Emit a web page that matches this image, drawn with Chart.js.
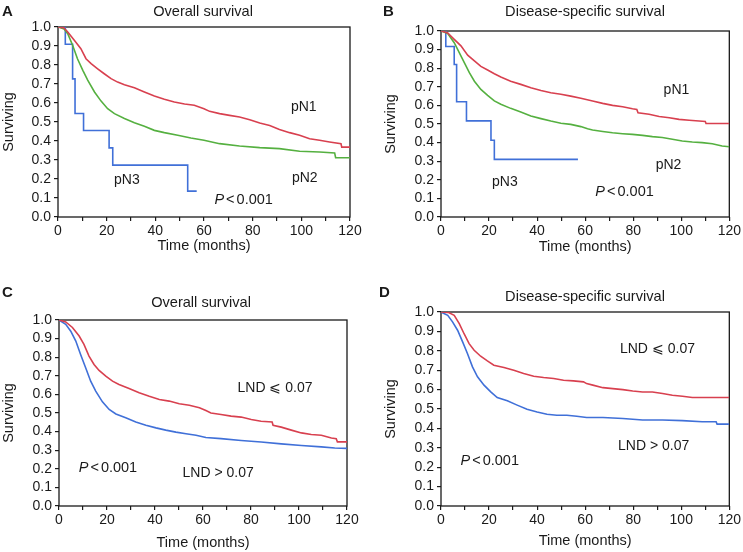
<!DOCTYPE html>
<html>
<head>
<meta charset="utf-8">
<script src="https://cdn.jsdelivr.net/npm/chart.js@4.4.0/dist/chart.umd.min.js"></script>
<style>
  html, body { margin: 0; padding: 0; background: #fff; }
  #wrap { position: relative; width: 743px; height: 552px; }
  canvas { position: absolute; }
</style>
</head>
<body>
<div id="wrap">
  <canvas id="panelA" width="372" height="276" style="left:0;top:0"></canvas>
  <canvas id="panelB" width="371" height="276" style="left:372px;top:0"></canvas>
  <canvas id="panelC" width="372" height="276" style="left:0;top:276px"></canvas>
  <canvas id="panelD" width="371" height="276" style="left:372px;top:276px"></canvas>
</div>
<script>
// A: overall survival by pN stage
const aN1Months = [0, 2.5, 4, 6.7, 9.4, 11.5, 13.6, 16.3, 19, 21.8, 24.5, 27.3, 31.4, 35.5, 39.6, 43.7, 47.8, 52, 56, 60, 62.3, 66.4, 70.5, 74.6, 78.8, 82.9, 87, 91, 95.2, 99.3, 103.4, 107.5, 111.6, 116.3, 116.6, 120];
const aN1Surv = [1, 0.995, 0.974, 0.93, 0.886, 0.833, 0.807, 0.78, 0.754, 0.728, 0.71, 0.696, 0.68, 0.658, 0.637, 0.62, 0.605, 0.595, 0.588, 0.57, 0.556, 0.544, 0.535, 0.526, 0.512, 0.495, 0.482, 0.461, 0.444, 0.43, 0.412, 0.404, 0.395, 0.386, 0.368, 0.368];
const aN2Months = [0, 2.5, 4, 6, 8, 10.2, 12.2, 15, 17.7, 20.4, 23.2, 27.3, 31.4, 35.5, 39.6, 43.7, 49.2, 54.6, 60, 66.4, 74.6, 82.9, 91, 99.3, 107.5, 113.7, 114.1, 120];
const aN2Surv = [1, 0.99, 0.965, 0.904, 0.833, 0.772, 0.72, 0.658, 0.61, 0.57, 0.544, 0.518, 0.496, 0.477, 0.456, 0.444, 0.43, 0.416, 0.404, 0.386, 0.374, 0.365, 0.36, 0.346, 0.342, 0.337, 0.312, 0.312];
const aN3Months = [0, 3, 6, 7, 10.5, 21, 22.5, 53.3, 57];
const aN3Surv = [1, 0.909, 0.727, 0.545, 0.455, 0.364, 0.273, 0.136, 0.136];

// B: disease-specific survival by pN stage
const bN1Months = [0, 2.8, 5.5, 8.3, 11.1, 13.9, 16.6, 19.4, 22.2, 24.9, 29, 33.2, 37.4, 41.6, 45.7, 49.9, 54, 58.2, 63.1, 67.3, 71.4, 75.6, 79.7, 81.5, 82, 86.6, 90.8, 95, 99.1, 103.3, 107.4, 110, 110.3, 120];
const bN1Surv = [1, 0.99, 0.955, 0.92, 0.87, 0.84, 0.81, 0.79, 0.77, 0.753, 0.73, 0.713, 0.695, 0.68, 0.668, 0.66, 0.65, 0.638, 0.624, 0.611, 0.6, 0.593, 0.582, 0.578, 0.56, 0.552, 0.54, 0.534, 0.525, 0.52, 0.516, 0.514, 0.503, 0.503];
const bN2Months = [0, 2.8, 5.5, 7.6, 9.7, 11.8, 13.9, 16.6, 19.4, 22.2, 24.9, 29, 33.2, 37.4, 41.6, 45.7, 49.9, 54, 58.2, 61, 63.1, 67.3, 71.4, 75.6, 79.7, 83.9, 88, 92.1, 96.3, 100.4, 104.6, 108.7, 112.9, 117, 120];
const bN2Surv = [1, 0.987, 0.937, 0.884, 0.83, 0.776, 0.73, 0.686, 0.654, 0.624, 0.606, 0.584, 0.565, 0.543, 0.529, 0.516, 0.504, 0.498, 0.486, 0.474, 0.468, 0.46, 0.453, 0.448, 0.444, 0.439, 0.432, 0.427, 0.418, 0.409, 0.403, 0.4, 0.394, 0.382, 0.378];
const bN3Months = [0, 2, 5.5, 6.5, 10.6, 20.8, 22.2, 57];
const bN3Surv = [1, 0.917, 0.82, 0.62, 0.517, 0.413, 0.31, 0.31];

// C: overall survival by LND
const cLowMonths = [0, 2.8, 5.6, 8.4, 10.4, 12.5, 14.6, 16.7, 19.5, 22.3, 25, 29.2, 33.4, 37.6, 41.8, 45.9, 50.1, 54.3, 58.5, 61.2, 63.3, 67.5, 71.7, 75.9, 80.1, 84.2, 88.8, 89.2, 92.6, 96.8, 101, 105.1, 109.3, 113.5, 115.5, 116, 120];
const cLowSurv = [1, 0.99, 0.96, 0.914, 0.869, 0.806, 0.761, 0.729, 0.698, 0.671, 0.653, 0.632, 0.609, 0.59, 0.573, 0.564, 0.55, 0.542, 0.528, 0.513, 0.5, 0.492, 0.483, 0.478, 0.465, 0.456, 0.452, 0.434, 0.424, 0.408, 0.393, 0.384, 0.38, 0.366, 0.362, 0.345, 0.345];
const cHighMonths = [0, 2.8, 4.9, 7, 9, 11.1, 13.2, 15.3, 18.1, 20.9, 23.7, 27.8, 32, 36.2, 40.4, 44.5, 48.7, 52.9, 57.1, 61.2, 67.5, 75.9, 84.2, 92.6, 101, 109.3, 114.9, 120];
const cHighSurv = [1, 0.977, 0.94, 0.887, 0.815, 0.743, 0.671, 0.618, 0.56, 0.519, 0.495, 0.474, 0.452, 0.434, 0.42, 0.408, 0.397, 0.388, 0.38, 0.368, 0.362, 0.352, 0.344, 0.334, 0.325, 0.318, 0.312, 0.31];

// D: disease-specific survival by LND
const dLowMonths = [0, 3, 5.5, 7.6, 9.6, 11.7, 13.8, 16.5, 19.3, 22, 26.2, 30.3, 34.4, 38.6, 42.7, 46.9, 51, 55.1, 59.3, 60.6, 63.2, 67.4, 71.5, 75.7, 79.8, 83.9, 88, 92.2, 96.3, 100.5, 104.6, 120];
const dLowSurv = [1, 0.998, 0.983, 0.94, 0.888, 0.837, 0.803, 0.772, 0.748, 0.726, 0.714, 0.7, 0.683, 0.669, 0.662, 0.657, 0.648, 0.645, 0.64, 0.631, 0.623, 0.61, 0.605, 0.6, 0.593, 0.588, 0.588, 0.58, 0.571, 0.566, 0.559, 0.559];
const dHighMonths = [0, 2.8, 4.8, 6.9, 9, 11, 13.1, 15.2, 17.9, 20.7, 23.4, 27.6, 31.7, 35.8, 40, 44.1, 48.2, 52.4, 56.5, 60.6, 67.4, 75.7, 83.9, 92.2, 100.5, 108.7, 114.5, 114.9, 120];
const dHighSurv = [1, 0.983, 0.949, 0.906, 0.846, 0.786, 0.717, 0.666, 0.623, 0.588, 0.559, 0.542, 0.52, 0.499, 0.485, 0.473, 0.468, 0.468, 0.463, 0.456, 0.456, 0.451, 0.443, 0.443, 0.44, 0.434, 0.434, 0.422, 0.422];

const xTicks = [0, 20, 40, 60, 80, 100, 120];

const FONT = "'Liberation Sans', Arial, Helvetica, sans-serif";
const INK = "#1a1a1a";
const RED = "#d8404f";
const GREEN = "#55b040";
const BLUE = "#4070d8";

function toPoints(months, surv) {
  return months.map((m, i) => ({ x: m, y: surv[i] }));
}

function curve(months, surv, color, stepped) {
  return {
    data: toPoints(months, surv),
    borderColor: color,
    borderWidth: 1.6,
    pointRadius: 0,
    fill: false,
    tension: 0,
    stepped: stepped ? "before" : false
  };
}

// frame, panel letter, title, axis titles and in-plot labels
const panelText = {
  id: "panelText",
  beforeDatasetsDraw(chart) {
    const { left, top, right, bottom } = chart.chartArea;
    const ctx = chart.ctx;
    ctx.save();
    ctx.strokeStyle = INK;
    ctx.lineWidth = 1.3;
    ctx.strokeRect(left, top, right - left, bottom - top);
    ctx.restore();
  },
  afterDraw(chart, args, o) {
    const ctx = chart.ctx;
    const { left, top, right, bottom } = chart.chartArea;
    const sx = chart.scales.x, sy = chart.scales.y;
    ctx.save();
    ctx.fillStyle = INK;
    ctx.textBaseline = "middle";

    ctx.font = "bold 15px " + FONT;
    ctx.textAlign = "left";
    ctx.fillText(o.letter, o.letterPos[0], o.letterPos[1]);

    ctx.font = "14.6px " + FONT;
    ctx.textAlign = "center";
    ctx.fillText(o.title, o.titlePos[0], o.titlePos[1]);
    ctx.font = "14.5px " + FONT;
    ctx.fillText("Time (months)", (left + right) / 2, o.xTitleY);

    ctx.save();
    ctx.translate(o.yTitleX, (top + bottom) / 2);
    ctx.rotate(-Math.PI / 2);
    ctx.fillText("Surviving", 0, 0);
    ctx.restore();

    o.labels.forEach(l => {
      const px = sx.getPixelForValue(l.at[0]);
      const py = sy.getPixelForValue(l.at[1]);
      if (l.p) {
        // italic P, then "<" and the value with small gaps
        const gap = 2;
        ctx.font = "italic 14.5px " + FONT;
        const w1 = ctx.measureText("P").width;
        ctx.font = "14.5px " + FONT;
        const w2 = ctx.measureText("<").width;
        const w3 = ctx.measureText(l.text).width;
        let x = px - (w1 + w2 + w3 + 2 * gap) / 2;
        ctx.textAlign = "left";
        ctx.font = "italic 14.5px " + FONT;
        ctx.fillText("P", x, py);
        x += w1 + gap;
        ctx.font = "14.5px " + FONT;
        ctx.fillText("<", x, py);
        x += w2 + gap;
        ctx.fillText(l.text, x, py);
      } else {
        ctx.font = "14px " + FONT;
        ctx.textAlign = "center";
        ctx.fillText(l.text, px, py);
      }
    });
    ctx.restore();
  }
};

function createPanel(canvasId, datasets, box, text) {
  const canvas = document.getElementById(canvasId);
  new Chart(canvas, {
    type: "line",
    data: { datasets },
    plugins: [panelText],
    options: {
      responsive: false,
      animation: false,
      layout: { padding: { left: 0, top: box.top, right: box.right, bottom: 0 } },
      scales: {
        x: {
          type: "linear",
          min: 0,
          max: 120,
          afterFit(s) { s.height = box.xh; },
          border: { display: false },
          grid: { drawOnChartArea: false, drawTicks: true, tickLength: 4, color: INK, lineWidth: 1.2 },
          ticks: {
            stepSize: 10,
            autoSkip: false,
            maxRotation: 0,
            padding: 2,
            color: INK,
            font: { family: FONT, size: 14 },
            callback: v => (xTicks.includes(v) ? String(v) : "")
          }
        },
        y: {
          min: 0,
          max: 1,
          afterFit(s) { s.width = box.yw; },
          border: { display: false },
          grid: { drawOnChartArea: false, drawTicks: true, tickLength: 4, color: INK, lineWidth: 1.2 },
          ticks: {
            stepSize: 0.1,
            autoSkip: false,
            padding: 3,
            color: INK,
            font: { family: FONT, size: 14 },
            callback: v => Number(v).toFixed(1)
          }
        }
      },
      plugins: {
        legend: { display: false },
        tooltip: { enabled: false },
        panelText: text
      }
    }
  });
}

createPanel("panelA", [
  curve(aN1Months, aN1Surv, RED, false),
  curve(aN2Months, aN2Surv, GREEN, false),
  curve(aN3Months, aN3Surv, BLUE, true)
], { top: 27, right: 22, yw: 58, xh: 59 }, {
  letter: "A", letterPos: [2, 12],
  title: "Overall survival", titlePos: [203, 12],
  xTitleY: 246, yTitleX: 9,
  labels: [
    { text: "pN1", at: [101, 0.577] },
    { text: "pN2", at: [101.4, 0.204] },
    { text: "pN3", at: [28.3, 0.193] },
    { text: "0.001", at: [76.3, 0.088], p: true }
  ]
});

createPanel("panelB", [
  curve(bN1Months, bN1Surv, RED, false),
  curve(bN2Months, bN2Surv, GREEN, false),
  curve(bN3Months, bN3Surv, BLUE, true)
], { top: 31, right: 13, yw: 69, xh: 59 }, {
  letter: "B", letterPos: [11, 12],
  title: "Disease-specific survival", titlePos: [213, 12],
  xTitleY: 247, yTitleX: 19,
  labels: [
    { text: "pN1", at: [98, 0.681] },
    { text: "pN2", at: [94.7, 0.278] },
    { text: "pN3", at: [26.6, 0.187] },
    { text: "0.001", at: [76.4, 0.133], p: true }
  ]
});

createPanel("panelC", [
  curve(cLowMonths, cLowSurv, RED, false),
  curve(cHighMonths, cHighSurv, BLUE, false)
], { top: 44, right: 25, yw: 59, xh: 46 }, {
  letter: "C", letterPos: [2, 17],
  title: "Overall survival", titlePos: [201, 27],
  xTitleY: 267, yTitleX: 9,
  labels: [
    { text: "LND \u2a7d 0.07", at: [90, 0.635] },
    { text: "LND > 0.07", at: [66.3, 0.178] },
    { text: "0.001", at: [20.4, 0.205], p: true }
  ]
});

createPanel("panelD", [
  curve(dLowMonths, dLowSurv, RED, false),
  curve(dHighMonths, dHighSurv, BLUE, false)
], { top: 36, right: 12, yw: 69, xh: 46 }, {
  letter: "D", letterPos: [7, 17],
  title: "Disease-specific survival", titlePos: [213, 21],
  xTitleY: 265, yTitleX: 19,
  labels: [
    { text: "LND \u2a7d 0.07", at: [90.1, 0.808] },
    { text: "LND > 0.07", at: [88.5, 0.309] },
    { text: "0.001", at: [20.3, 0.232], p: true }
  ]
});
</script>
</body>
</html>
